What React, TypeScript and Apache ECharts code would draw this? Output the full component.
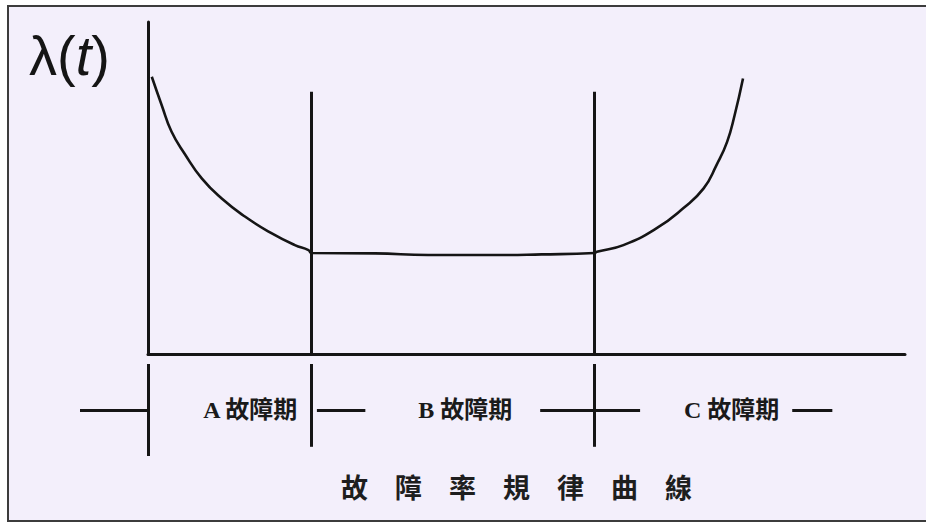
import React, { useEffect, useRef } from "react";
import * as echarts from "echarts";

// Bathtub (failure-rate) curve: t in 0..100, λ in 0..10
const curveT = [
  0.5, 1.8, 3.1, 4.9, 7.1, 9.7, 12.8, 16.3, 19.4, 21.2, 21.6,
  30, 37, 45, 52, 59, 59.3,
  62.8, 67.2, 70.7, 73.4, 75.1, 76.5, 77.5, 78.6,
];
const curveRate = [
  8.35, 7.5, 6.7, 6.01, 5.29, 4.69, 4.14, 3.64, 3.28, 3.13, 3.04,
  3.03, 2.98, 2.98, 3.0, 3.04, 3.08,
  3.28, 3.79, 4.39, 4.99, 5.69, 6.39, 7.2, 8.3,
];

// Phase boundaries (t) and boundary-line height (λ)
const phaseBounds = [21.6, 59];
const boundTop = 7.9;

// Phase row
const phaseLabels = ["A 故障期", "B 故障期", "C 故障期"];
const phaseCenters = [13.5, 41.9, 77.1];
const rowDashes: [number, number][] = [
  [-9, 0],
  [22.3, 28.7],
  [51.8, 65.0],
  [85.1, 90.4],
];
const rowVerticals: [number, number][] = [
  [0, 0],
  [21.6, 0.1],
  [59, 0.1],
];

const yName = "λ(t)";
const chartTitle = "故　障　率　規　律　曲　線";

const INK = "#151515";

export default function App() {
  const ref = useRef<HTMLDivElement>(null);

  useEffect(() => {
    if (!ref.current) return;
    const chart = echarts.init(ref.current, null, { renderer: "svg" });

    const lineStyle = { type: "solid" as const, color: INK, width: 3 };
    const sans = "Liberation Sans, Arial, sans-serif";

    chart.setOption({
      animation: false,
      backgroundColor: "#ffffff",
      graphic: [
        {
          type: "rect",
          z: -10,
          silent: true,
          shape: { x: 8, y: 6, width: 930, height: 515 },
          style: { fill: "#f3effb", stroke: "#3c3c3c", lineWidth: 2 },
        },
      ],
      title: [
        {
          text: "{n|λ(}{i|t}{n|)}",
          left: 24,
          top: 22,
          textStyle: {
            fontWeight: "normal",
            rich: {
              n: { fontSize: 56, fontWeight: "normal", fontFamily: sans, color: INK },
              i: {
                fontSize: 56,
                fontWeight: "normal",
                fontStyle: "italic",
                fontFamily: sans,
                color: INK,
              },
            },
          },
        },
        {
          text: chartTitle,
          left: 336,
          top: 468,
          textStyle: {
            fontSize: 27,
            fontWeight: "bold",
            fontFamily: "Noto Sans CJK TC",
            color: "#1e1e1e",
          },
        },
      ],
      grid: [
        { left: 148, right: 21, top: 22, bottom: 170 },
        { left: 80, right: 21, top: 364, bottom: 68 },
      ],
      xAxis: [
        {
          gridIndex: 0,
          type: "value",
          min: 0,
          max: 100,
          axisLine: { show: true, lineStyle: { color: INK, width: 3 } },
          axisTick: { show: false },
          axisLabel: { show: false },
          splitLine: { show: false },
        },
        {
          gridIndex: 1,
          type: "value",
          min: -9,
          max: 100,
          show: false,
          splitLine: { show: false },
        },
      ],
      yAxis: [
        {
          gridIndex: 0,
          type: "value",
          min: 0,
          max: 10,
          axisLine: { show: true, lineStyle: { color: INK, width: 3 } },
          axisTick: { show: false },
          axisLabel: { show: false },
          splitLine: { show: false },
        },
        {
          gridIndex: 1,
          type: "value",
          min: 0,
          max: 1,
          show: false,
          splitLine: { show: false },
        },
      ],
      series: [
        {
          type: "line",
          name: yName,
          xAxisIndex: 0,
          yAxisIndex: 0,
          data: curveT.map((t, i) => [t, curveRate[i]]),
          smooth: 0.5,
          symbol: "none",
          lineStyle: { color: INK, width: 2.6 },
          markLine: {
            silent: true,
            symbol: ["none", "none"],
            label: { show: false },
            lineStyle,
            data: phaseBounds.map((b) => [
              { coord: [b, 0] },
              { coord: [b, boundTop] },
            ]),
          },
        },
        {
          type: "scatter",
          xAxisIndex: 1,
          yAxisIndex: 1,
          symbolSize: 0,
          itemStyle: { opacity: 1, color: INK },
          data: phaseCenters.map((c) => [c, 0.5]),
          label: {
            show: true,
            position: "inside",
            formatter: (p: any) => phaseLabels[p.dataIndex],
            fontSize: 24,
            fontWeight: "bold",
            fontFamily: "Liberation Serif, Noto Sans CJK TC",
            color: "#1a1a1a",
            textBorderWidth: 0,
          },
          markLine: {
            silent: true,
            symbol: ["none", "none"],
            label: { show: false },
            lineStyle,
            data: [
              ...rowVerticals.map(([x, y0]) => [
                { coord: [x, y0] },
                { coord: [x, 1] },
              ]),
              ...rowDashes.map(([a, b]) => [
                { coord: [a, 0.5] },
                { coord: [b, 0.5] },
              ]),
            ],
          },
        },
      ],
    });

    return () => chart.dispose();
  }, []);

  return (
    <div
      ref={ref}
      style={{ position: "fixed", left: 0, top: 0, width: 926, height: 524 }}
    />
  );
}
